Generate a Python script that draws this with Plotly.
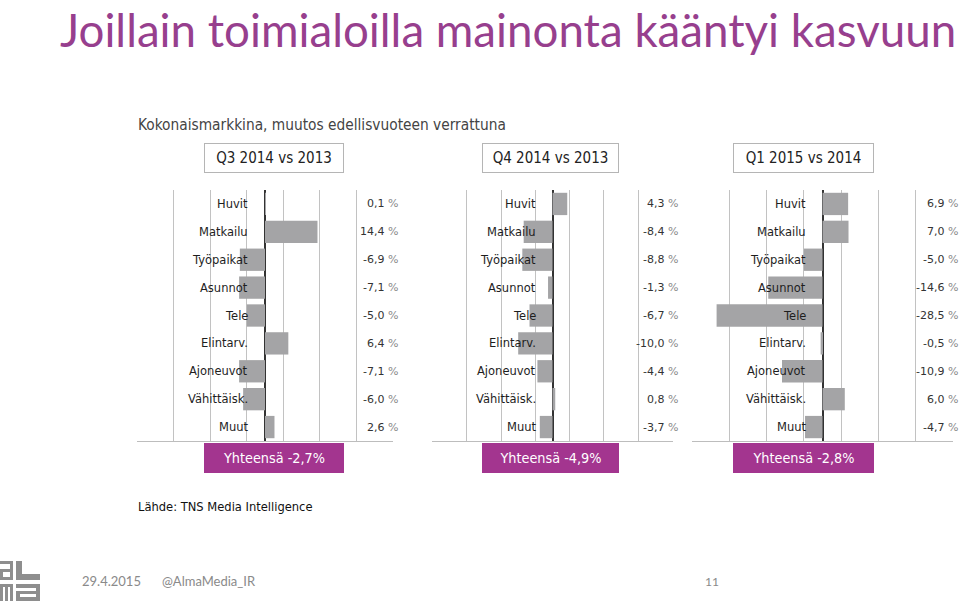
import plotly.graph_objects as go

# ---------------- data ----------------
categories = ["Huvit", "Matkailu", "Työpaikat", "Asunnot", "Tele",
              "Elintarv.", "Ajoneuvot", "Vähittäisk.", "Muut"]
periods = ["Q3 2014 vs 2013", "Q4 2014 vs 2013", "Q1 2015 vs 2014"]
q3_2014 = [0.1, 14.4, -6.9, -7.1, -5.0, 6.4, -7.1, -6.0, 2.6]
q4_2014 = [4.3, -8.4, -8.8, -1.3, -6.7, -10.0, -4.4, 0.8, -3.7]
q1_2015 = [6.9, 7.0, -5.0, -14.6, -28.5, -0.5, -10.9, 6.0, -4.7]
totals = [-2.7, -4.9, -2.8]
grid_ticks = [-35, -25, -15, -5, 5, 15, 25, 35]

title = "Joillain toimialoilla mainonta kääntyi kasvuun"
subtitle = "Kokonaismarkkina, muutos edellisvuoteen verrattuna"
source = "Lähde: TNS Media Intelligence"
footer_date = "29.4.2015"
footer_handle = "@AlmaMedia_IR"
footer_page = "11"

series = [q3_2014, q4_2014, q1_2015]

# ---------------- layout geometry (pixels) ----------------
W, H = 960, 603
panel_left = [137, 432, 692]
panel_right = [393, 673, 953]
plot_top, plot_bottom = 190, 441
box_center_x = [274, 550.5, 803.5]
box_width = [140, 137, 141]

PURPLE = "#a3358f"
TITLE_PURPLE = "#973f8e"
BAR = "#a4a4a6"
GRID = "#c2c2c2"


def px(x):
    return x / W


def py(y):
    return 1 - y / H


def fmt(v):
    return f"{v:.1f}".replace(".", ",") + ' <span style="color:#8a8a8a">%</span>'


fig = go.Figure()
annotations = []
shapes = []

for i, vals in enumerate(series):
    n = "" if i == 0 else str(i + 1)
    xa, ya = "x" + n, "y" + n
    fig.add_trace(go.Bar(
        x=vals, y=categories, orientation="h",
        marker=dict(color=BAR, line=dict(width=0)),
        xaxis=xa, yaxis=ya, hoverinfo="skip", showlegend=False,
    ))
    fig.update_layout(**{
        "xaxis" + n: dict(
            domain=[px(panel_left[i]), px(panel_right[i])],
            range=[-35.12, 35.12], anchor=ya,
            tickvals=grid_ticks, showticklabels=False, ticks="",
            showgrid=True, gridcolor=GRID, gridwidth=1,
            zeroline=True, zerolinecolor="#333333", zerolinewidth=1.6,
            showline=True, linecolor="#bdbdbd", linewidth=1, mirror=False,
            fixedrange=True,
        ),
        "yaxis" + n: dict(
            domain=[py(plot_bottom), py(plot_top)],
            anchor=xa, type="category",
            categoryorder="array", categoryarray=categories,
            range=[len(categories) - 0.5, -0.5],
            showticklabels=False, showgrid=False, zeroline=False,
            showline=False, ticks="", fixedrange=True,
        ),
    })
    # category labels ending left of the zero line
    for c in categories:
        annotations.append(dict(
            x=0, y=c, xref=xa, yref=ya, text=c, showarrow=False,
            xanchor="right", yanchor="middle", xshift=-15,
            font=dict(family="DejaVu Sans", size=11.5, color="#1e1e1e"),
        ))
    # value labels straddling the right border
    for c, v in zip(categories, vals):
        annotations.append(dict(
            x=1, y=c, xref=xa + " domain", yref=ya, text=fmt(v),
            showarrow=False, xanchor="right", yanchor="middle", xshift=7,
            font=dict(family="DejaVu Sans", size=11, color="#333333"),
        ))
    # period header box
    annotations.append(dict(
        x=px(box_center_x[i]), y=py(157.5), xref="paper", yref="paper",
        text=periods[i], showarrow=False, xanchor="center", yanchor="middle",
        width=box_width[i] - 2, height=28, borderpad=0,
        bordercolor="#b5b5b5", borderwidth=1, bgcolor="white",
        font=dict(family="DejaVu Sans Condensed", size=15, color="#222222"),
    ))
    # total box
    annotations.append(dict(
        x=px(box_center_x[i]), y=py(458), xref="paper", yref="paper",
        text="Yhteensä " + f"{totals[i]:.1f}".replace(".", ",") + "%",
        showarrow=False, xanchor="center", yanchor="middle",
        width=box_width[i], height=30, borderpad=0, borderwidth=0,
        bgcolor=PURPLE,
        font=dict(family="DejaVu Sans Condensed", size=14.3, color="white"),
    ))

# title, subtitle, source, footer
annotations += [
    dict(x=px(58), y=py(29), xref="paper", yref="paper", text=title,
         showarrow=False, xanchor="left", yanchor="middle",
         font=dict(family="Lato", size=45.7, color=TITLE_PURPLE)),
    dict(x=px(136), y=py(125), xref="paper", yref="paper", text=subtitle,
         showarrow=False, xanchor="left", yanchor="middle",
         font=dict(family="DejaVu Sans Condensed", size=15.3, color="#444444")),
    dict(x=px(136), y=py(507), xref="paper", yref="paper", text=source,
         showarrow=False, xanchor="left", yanchor="middle",
         font=dict(family="DejaVu Sans Condensed", size=12.8, color="#111111")),
    dict(x=px(80), y=py(581), xref="paper", yref="paper", text=footer_date,
         showarrow=False, xanchor="left", yanchor="middle",
         font=dict(family="Lato", size=13, color="#8a8a8a")),
    dict(x=px(160), y=py(581), xref="paper", yref="paper", text=footer_handle,
         showarrow=False, xanchor="left", yanchor="middle",
         font=dict(family="Lato", size=13, color="#8a8a8a")),
    dict(x=px(703), y=py(581), xref="paper", yref="paper", text=footer_page,
         showarrow=False, xanchor="left", yanchor="middle",
         font=dict(family="Lato", size=12, color="#8a8a8a")),
]

# Alma logo (decorative blocks)
logo_rects = [
    # "a" top
    (0, 561, 13, 564), (10, 561, 13, 580), (0, 569, 13, 572),
    (0, 569, 3, 580), (0, 577, 13, 580),
    # "l"
    (16, 561, 22, 580), (16, 574, 40, 580),
    # "m"
    (0, 584, 13, 587), (0, 584, 3, 601), (5, 584, 8, 601), (10, 584, 13, 601),
    # "a" bottom
    (16, 584, 40, 588), (36, 584, 40, 601), (16, 591, 40, 594),
    (16, 591, 20, 601), (16, 597, 40, 601),
]
for x0, y0, x1, y1 in logo_rects:
    shapes.append(dict(type="rect", xref="paper", yref="paper",
                       x0=px(x0), x1=px(x1), y0=py(y1), y1=py(y0),
                       fillcolor="#8e8e8e", line=dict(width=0), layer="above"))

fig.update_layout(
    width=W, height=H, margin=dict(l=0, r=0, t=0, b=0),
    paper_bgcolor="white", plot_bgcolor="white",
    bargap=0.2, showlegend=False,
    annotations=annotations, shapes=shapes,
)

fig.write_html("out.html", config={"displayModeBar": False},
               post_script="document.body.style.margin='0';")
